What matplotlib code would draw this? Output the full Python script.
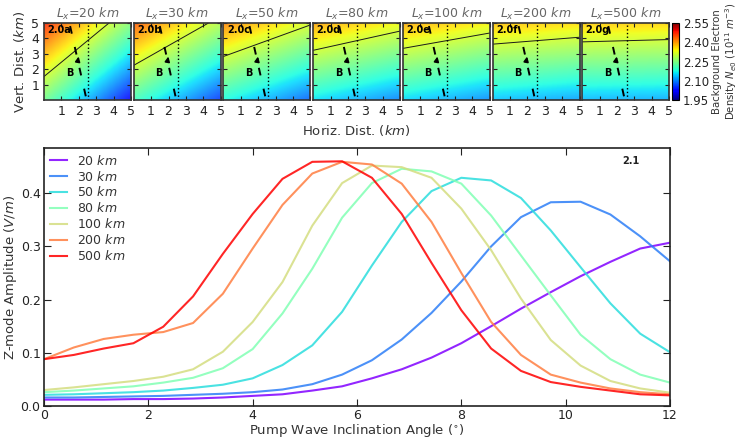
import numpy as np
import matplotlib.pyplot as plt
import matplotlib.cm as cm

# ---- data ----
angles = np.linspace(0, 12, 22)

amp_20 = [0.012, 0.012, 0.012, 0.013, 0.013, 0.014, 0.016, 0.019, 0.022, 0.029, 0.037,
          0.052, 0.069, 0.091, 0.118, 0.150, 0.183, 0.214, 0.244, 0.271, 0.296, 0.307]
amp_30 = [0.016, 0.016, 0.017, 0.018, 0.019, 0.021, 0.023, 0.026, 0.031, 0.041, 0.059,
          0.086, 0.125, 0.175, 0.234, 0.300, 0.355, 0.383, 0.384, 0.360, 0.319, 0.272]
amp_50 = [0.021, 0.022, 0.024, 0.026, 0.029, 0.034, 0.040, 0.052, 0.077, 0.114, 0.177,
          0.264, 0.346, 0.404, 0.429, 0.424, 0.391, 0.330, 0.261, 0.193, 0.136, 0.101]
amp_80 = [0.026, 0.029, 0.033, 0.037, 0.044, 0.053, 0.071, 0.107, 0.174, 0.258, 0.354,
          0.419, 0.446, 0.441, 0.418, 0.358, 0.283, 0.208, 0.134, 0.088, 0.059, 0.044]
amp_100 = [0.030, 0.035, 0.041, 0.047, 0.055, 0.069, 0.102, 0.158, 0.233, 0.339, 0.419,
           0.452, 0.449, 0.429, 0.371, 0.293, 0.202, 0.124, 0.076, 0.047, 0.033, 0.025]
amp_200 = [0.088, 0.110, 0.126, 0.134, 0.139, 0.156, 0.211, 0.296, 0.378, 0.437, 0.459,
           0.454, 0.418, 0.346, 0.250, 0.158, 0.096, 0.059, 0.044, 0.033, 0.026, 0.022]
amp_500 = [0.088, 0.096, 0.108, 0.118, 0.149, 0.206, 0.286, 0.361, 0.427, 0.459, 0.460,
           0.429, 0.361, 0.269, 0.180, 0.108, 0.066, 0.045, 0.036, 0.029, 0.022, 0.020]

series = [amp_20, amp_30, amp_50, amp_80, amp_100, amp_200, amp_500]
scales_km = [20, 30, 50, 80, 100, 200, 500]
panel_tags = ["2.0a", "2.0b", "2.0c", "2.0d", "2.0e", "2.0f", "2.0g"]

# density model for the small panels (slope of the iso-density line read per panel)
iso_slopes = [0.93, 0.64, 0.41, 0.25, 0.20, 0.09, 0.03]
iso_level = 2.31      # 10^11 m^-3
iso_pivot = (2.5, 3.85)
vert_grad = 0.047     # per km
cbar_ticks = [1.95, 2.10, 2.25, 2.40, 2.55]

# B-field line and dotted marker
b_line_x = [1.5, 2.45]
b_line_z = [4.8, 0.0]
dotted_x = 2.55

plt.rcParams['xtick.direction'] = 'in'
plt.rcParams['ytick.direction'] = 'in'
plt.rcParams['xtick.top'] = True
plt.rcParams['ytick.right'] = True
plt.rcParams['text.color'] = '#333333'
plt.rcParams['xtick.color'] = '#222222'
plt.rcParams['ytick.color'] = '#222222'
plt.rcParams['axes.labelcolor'] = '#333333'

fig = plt.figure(figsize=(7.38, 4.40), dpi=100)

# ---- top row of density panels ----
W, H = 738.0, 440.0
xs = np.linspace(0, 5, 200)
zs = np.linspace(0, 5, 200)
X, Z = np.meshgrid(xs, zs)

for i, (L, s, tag) in enumerate(zip(scales_km, iso_slopes, panel_tags)):
    left = (44 + i * 89.7) / W
    ax = fig.add_axes([left, (H - 100) / H, 87 / W, 77 / H])
    N = iso_level + vert_grad * ((Z - iso_pivot[1]) - s * (X - iso_pivot[0]))
    im = ax.imshow(N, origin='lower', extent=[0, 5, 0, 5], cmap='jet',
                   vmin=1.95, vmax=2.55, aspect='auto', interpolation='bilinear',
                   alpha=0.88)
    ax.contour(X, Z, N, levels=[iso_level], colors='#1a1a1a', linewidths=0.7)
    ax.plot(b_line_x, b_line_z, color='k', lw=1.4, linestyle=(0, (4, 7)))
    ax.annotate('', xy=(2.02, 3.0), xytext=(1.93, 2.45),
                arrowprops=dict(arrowstyle='-|>', color='k', lw=1.2, mutation_scale=7))
    ax.axvline(dotted_x, color='k', lw=1.0, linestyle=':')
    ax.text(0.2, 4.55, tag, fontsize=7, fontweight='bold', color='k', va='center')
    ax.text(1.25, 1.75, 'B', fontsize=7, fontweight='bold', color='k', va='center')
    ax.set_xlim(0, 5)
    ax.set_ylim(0, 5)
    ax.set_xticks([1, 2, 3, 4, 5])
    ax.set_yticks([1, 2, 3, 4, 5])
    ax.tick_params(labelsize=9, length=3)
    if i > 0:
        ax.set_yticklabels([])
    else:
        ax.set_ylabel('Vert. Dist. ($km$)', fontsize=9.5, labelpad=3)
    if i == 3:
        ax.set_xlabel('Horiz. Dist. ($km$)', fontsize=9.5, labelpad=4)
    ax.set_title(r'$L_x$=%d $km$' % L, fontsize=9, color='#666666', pad=4)
    for sp in ax.spines.values():
        sp.set_color('#333333')
        sp.set_linewidth(1.2)

cax = fig.add_axes([672 / W, (H - 100) / H, 6.5 / W, 77 / H])
cb = fig.colorbar(im, cax=cax, ticks=cbar_ticks)
cb.solids.set_alpha(1)
cb.ax.set_yticklabels(['%.2f' % t for t in cbar_ticks])
cb.ax.tick_params(labelsize=8.5, length=0, right=True, pad=3)
cb.set_label('Background Electron\nDensity $N_{e0}$ ($10^{11}\\ m^{-3}$)', fontsize=7.3,
             labelpad=2, linespacing=1.1)

# ---- main amplitude plot ----
ax = fig.add_axes([44 / W, 34 / H, 626 / W, 258 / H])
colors = cm.rainbow(np.linspace(0, 1, len(series)))
for vals, L, c in zip(series, scales_km, colors):
    ax.plot(angles, vals, color=c, alpha=0.85, lw=1.5, label='%d $km$' % L)

ax.set_xlim(0, 12)
ax.set_ylim(0, 0.485)
ax.set_xticks([0, 2, 4, 6, 8, 10, 12])
ax.set_yticks([0.0, 0.1, 0.2, 0.3, 0.4])
ax.tick_params(labelsize=9, length=5, pad=2.5)
ax.set_xlabel(r'Pump Wave Inclination Angle ($^{\circ}$)', fontsize=9.5, labelpad=0)
ax.set_ylabel('Z-mode Amplitude ($V/m$)', fontsize=9.5, labelpad=1)
ax.text(11.25, 0.455, '2.1', fontsize=7, fontweight='bold', color='#222222', ha='center')
ax.legend(loc='upper left', frameon=False, fontsize=9, handlelength=1.4,
          labelspacing=0.15, borderaxespad=0.15, borderpad=0.3)
for sp in ax.spines.values():
    sp.set_color('#222222')
    sp.set_linewidth(1.2)

fig.savefig('out.png', dpi=100)
